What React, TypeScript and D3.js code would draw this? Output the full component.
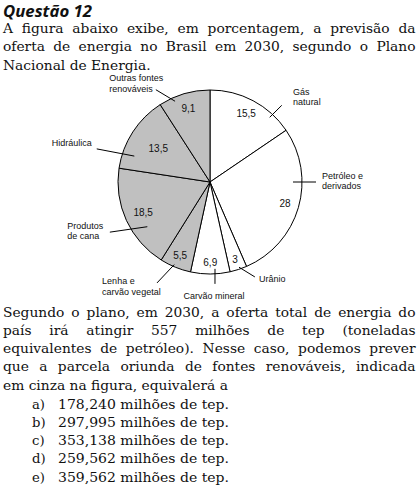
import React, { useEffect, useRef } from "react";
import * as d3 from "d3";

// fontes de energia, sentido horário a partir do topo
const sources = [
  "Gás natural",
  "Petróleo e derivados",
  "Urânio",
  "Carvão mineral",
  "Lenha e carvão vegetal",
  "Produtos de cana",
  "Hidráulica",
  "Outras fontes renováveis",
];
const sourceLabelLines = [
  ["Gás", "natural"],
  ["Petróleo e", "derivados"],
  ["Urânio"],
  ["Carvão mineral"],
  ["Lenha e", "carvão vegetal"],
  ["Produtos", "de cana"],
  ["Hidráulica"],
  ["Outras fontes", "renováveis"],
];
const shares = [15.5, 28, 3, 6.9, 5.5, 18.5, 13.5, 9.1];
const renewable = [false, false, false, false, true, true, true, true];

const title = "Questão 12";
const introLines = [
  "A figura abaixo exibe, em porcentagem, a previsão da",
  "oferta de energia no Brasil em 2030, segundo o Plano",
  "Nacional de Energia.",
];
const questionLines = [
  "Segundo o plano, em 2030, a oferta total de energia do",
  "país irá atingir 557 milhões de tep (toneladas",
  "equivalentes de petróleo). Nesse caso, podemos prever",
  "que a parcela oriunda de fontes renováveis, indicada",
  "em cinza na figura, equivalerá a",
];
const optionLetters = ["a)", "b)", "c)", "d)", "e)"];
const optionValues = ["178,240", "297,995", "353,138", "259,562", "359,562"];

// posição das legendas externas (graus a partir do topo, raio em px)
const callouts = [
  { a1: 42.7, r1: 88, a2: 43.1, r2: 105, ta: 44.3, tr: 119, anchor: "start" },
  { a1: 90, r1: 83, a2: 90, r2: 106, ta: 89.5, tr: 112, anchor: "start" },
  { a1: 161.2, r1: 90, a2: 154.7, r2: 105, ta: 153.2, tr: 108.5, anchor: "start" },
  { a1: 176.7, r1: 87, a2: 177.2, r2: 102, ta: 178, tr: 114, anchor: "middle" },
  { a1: 203.4, r1: 90, a2: 207.7, r2: 114, ta: 226, tr: 150, anchor: "start" },
  { a1: 234.5, r1: 77, a2: 243.4, r2: 112, ta: 251.1, tr: 151, anchor: "start" },
  { a1: 288.9, r1: 80, a2: 286.3, r2: 118, ta: 284, tr: 163, anchor: "start" },
  { a1: 336.6, r1: 88, a2: 329.6, r2: 107, ta: 314.4, tr: 141, anchor: "start" },
];
const valueLabelRadius = [0.84, 0.85, 0.88, 0.87, 0.86, 0.8, 0.67, 0.83];

const fmt = (v: number) => String(v).replace(".", ",");

export default function App() {
  const svgRef = useRef<SVGSVGElement>(null);

  useEffect(() => {
    const width = 420;
    const height = 487;
    const svg = d3.select(svgRef.current).attr("width", width).attr("height", height);
    svg.selectAll("*").remove();

    const bodyFont = "DejaVu Serif";
    const left = 3;
    const right = 415.5;

    const drawLine = (g: any, text: string, x: number, y: number, w: number, justify: boolean) => {
      const t = g.append("text").attr("x", x).attr("y", y).text(text);
      if (justify) {
        const tw = t.node().getComputedTextLength();
        const spaces = text.split(" ").length - 1;
        const extra = (w - tw) / spaces;
        if (extra >= 0) t.style("word-spacing", `${extra}px`);
        else t.attr("textLength", w).attr("lengthAdjust", "spacingAndGlyphs");
      }
      return t;
    };

    // título
    svg
      .append("text")
      .attr("x", left)
      .attr("y", 16.6)
      .attr("font-family", "Open Sans")
      .attr("font-weight", "bold")
      .attr("font-style", "italic")
      .attr("font-size", "15.5px")
      .attr("textLength", 89)
      .attr("lengthAdjust", "spacingAndGlyphs")
      .attr("fill", "#111")
      .text(title);

    const intro = svg
      .append("g")
      .attr("font-family", bodyFont)
      .attr("font-size", "13.8px")
      .attr("fill", "#111");
    introLines.forEach((line, i) => {
      drawLine(intro, line, left, 32.5 + i * 18.5, right - left, i < introLines.length - 1);
    });

    const question = svg
      .append("g")
      .attr("font-family", bodyFont)
      .attr("font-size", "13.8px")
      .attr("fill", "#111");
    questionLines.forEach((line, i) => {
      drawLine(question, line, left, 316.5 + i * 18.3, right - left, i < questionLines.length - 1);
    });

    const options = svg
      .append("g")
      .attr("font-family", bodyFont)
      .attr("font-size", "13.2px")
      .attr("fill", "#111");
    optionLetters.forEach((l, i) => {
      const y = 408.5 + i * 18.3;
      options.append("text").attr("x", 32).attr("y", y).text(l);
      options
        .append("text")
        .attr("x", 58)
        .attr("y", y)
        .attr("textLength", 171)
        .attr("lengthAdjust", "spacingAndGlyphs")
        .text(`${optionValues[i]} milhões de tep.`);
    });

    // gráfico de pizza
    const cx = 210;
    const cy = 182;
    const R = 92;
    const pie = d3.pie<number>().value((d) => d).sort(null);
    const arcs = pie(shares);
    const arc = d3.arc<d3.PieArcDatum<number>>().innerRadius(0).outerRadius(R);

    const g = svg.append("g").attr("transform", `translate(${cx},${cy})`);

    g.selectAll("path.slice")
      .data(arcs)
      .join("path")
      .attr("class", "slice")
      .attr("d", arc as any)
      .attr("fill", (d, i) => (renewable[i] ? "#c0c0c0" : "#ffffff"))
      .attr("stroke", "#000")
      .attr("stroke-width", 1);

    g.selectAll("text.value")
      .data(arcs)
      .join("text")
      .attr("class", "value")
      .attr("transform", (d, i) => {
        const r = R * valueLabelRadius[i];
        const c = d3.arc<d3.PieArcDatum<number>>().innerRadius(r).outerRadius(r).centroid(d);
        return `translate(${c[0]},${c[1]})`;
      })
      .attr("text-anchor", "middle")
      .attr("dy", "0.36em")
      .attr("font-family", "Liberation Sans, Arial, sans-serif")
      .attr("font-size", "10px")
      .attr("fill", "#111")
      .text((d) => fmt(d.data));

    const polar = (aDeg: number, r: number) => {
      const a = (aDeg * Math.PI) / 180;
      return [r * Math.sin(a), -r * Math.cos(a)];
    };

    callouts.forEach((c, i) => {
      const p1 = polar(c.a1, c.r1);
      const p2 = polar(c.a2, c.r2);
      g.append("line")
        .attr("x1", p1[0])
        .attr("y1", p1[1])
        .attr("x2", p2[0])
        .attr("y2", p2[1])
        .attr("stroke", "#000")
        .attr("stroke-width", 1);

      const tp = polar(c.ta, c.tr);
      const lines = sourceLabelLines[i];
      const lh = 10.5;
      const t = g
        .append("text")
        .attr("text-anchor", c.anchor)
        .attr("font-family", "Liberation Sans, Arial, sans-serif")
        .attr("font-size", "9px")
        .attr("fill", "#111");
      lines.forEach((ln, j) => {
        t.append("tspan")
          .attr("x", tp[0])
          .attr("y", tp[1] + (j - (lines.length - 1) / 2) * lh + 3.2)
          .text(ln);
      });
      t.append("title").text(sources[i]);
    });
  }, []);

  return (
    <div>
      <svg
        ref={svgRef}
        style={{ position: "absolute", left: 0, top: 0, background: "#fff" }}
      ></svg>
    </div>
  );
}
